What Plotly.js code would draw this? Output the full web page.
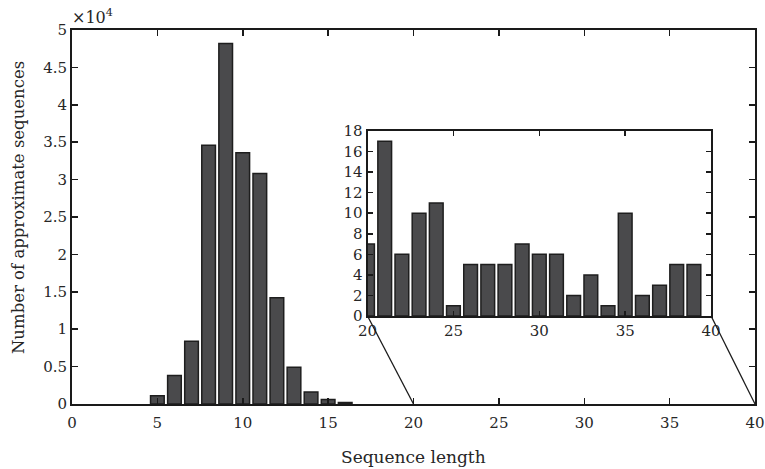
<!DOCTYPE html>
<html>
<head>
<meta charset="utf-8">
<script src="https://cdn.plot.ly/plotly-3.0.1.min.js"></script>
<style>html,body{margin:0;padding:0;background:#fff;}</style>
</head>
<body>
<div id="chart" style="width:765px;height:469px;"></div>
<script>
// Main histogram (counts in units of 10^4)
const mainLengths = [5, 6, 7, 8, 9, 10, 11, 12, 13, 14, 15, 16];
const mainCounts = [0.11, 0.38, 0.84, 3.46, 4.82, 3.36, 3.08, 1.42, 0.49, 0.16, 0.06, 0.02];
// Inset: lengths 20-39
const insetLengths = [20, 21, 22, 23, 24, 25, 26, 27, 28, 29, 30, 31, 32, 33, 34, 35, 36, 37, 38, 39];
const insetCounts = [7, 17, 6, 10, 11, 1, 5, 5, 5, 7, 6, 6, 2, 4, 1, 10, 2, 3, 5, 5];
const mainXTicks = [0, 5, 10, 15, 20, 25, 30, 35, 40];
const mainYTicks = [0, 0.5, 1, 1.5, 2, 2.5, 3, 3.5, 4, 4.5, 5];
const insetXTicks = [20, 25, 30, 35, 40];
const insetYTicks = [0, 2, 4, 6, 8, 10, 12, 14, 16, 18];

const FONT = 'DejaVu Serif, Liberation Serif, serif';
const barFill = '#4a4a4c';
const barLine = '#1e1e1e';
const axisColor = '#1a1a1a';
const textColor = '#262626';

const inset = {x0: 0.4327, x1: 0.9357, y0: 0.2353, y1: 0.730};

const traces = [
  {type: 'bar', x: mainLengths, y: mainCounts, width: 0.8, xaxis: 'x', yaxis: 'y',
   marker: {color: barFill, line: {color: barLine, width: 1.5}}, hoverinfo: 'x+y'},
  {type: 'bar', x: insetLengths, y: insetCounts, width: 0.8, xaxis: 'x2', yaxis: 'y2',
   marker: {color: barFill, line: {color: barLine, width: 1.5}}, hoverinfo: 'x+y'}
];

const axBase = {showgrid: false, zeroline: false, showline: true, mirror: 'ticks',
  linecolor: axisColor, linewidth: 2, ticks: 'inside', ticklen: 6, tickwidth: 1.5,
  tickcolor: axisColor, ticklabeloverflow: 'allow',
  tickfont: {family: FONT, size: 15, color: textColor}};

const layout = {
  width: 765, height: 469,
  margin: {l: 72, r: 10, t: 30, b: 65},
  paper_bgcolor: '#fff', plot_bgcolor: 'rgba(0,0,0,0)',
  showlegend: false, bargap: 0,
  font: {family: FONT, color: textColor},
  xaxis: Object.assign({}, axBase, {range: [0, 40], tickvals: mainXTicks, ticktext: mainXTicks.map(String),
    domain: [0, 1], anchor: 'y', ticklabelstandoff: 4}),
  yaxis: Object.assign({}, axBase, {range: [0, 5], tickvals: mainYTicks, ticktext: mainYTicks.map(String),
    domain: [0, 1], anchor: 'x'}),
  xaxis2: Object.assign({}, axBase, {range: [20, 40], tickvals: insetXTicks, ticktext: insetXTicks.map(String),
    domain: [inset.x0, inset.x1], anchor: 'y2', ticklen: 5}),
  yaxis2: Object.assign({}, axBase, {range: [0, 18], tickvals: insetYTicks, ticktext: insetYTicks.map(String),
    domain: [inset.y0, inset.y1], anchor: 'x2', ticklen: 5}),
  shapes: [
    {type: 'rect', xref: 'paper', yref: 'paper', x0: inset.x0, x1: inset.x1, y0: inset.y0, y1: inset.y1,
     fillcolor: '#fff', line: {width: 0}, layer: 'below'},
    {type: 'line', xref: 'paper', yref: 'paper', x0: inset.x0, y0: inset.y0, x1: 0.5, y1: 0,
     line: {color: axisColor, width: 1.3}},
    {type: 'line', xref: 'paper', yref: 'paper', x0: inset.x1, y0: inset.y0, x1: 1, y1: 0,
     line: {color: axisColor, width: 1.3}}
  ],
  annotations: [
    {xref: 'paper', yref: 'paper', x: 0, y: 1, xanchor: 'left', yanchor: 'bottom', yshift: 1, xshift: -2,
     text: '×10<sup>4</sup>', showarrow: false, font: {family: FONT, size: 16, color: textColor}},
    {xref: 'paper', yref: 'paper', x: 0.5007, y: -0.1417, xanchor: 'center', yanchor: 'middle',
     text: 'Sequence length', showarrow: false, font: {family: FONT, size: 17, color: textColor}},
    {xref: 'paper', yref: 'paper', x: -0.0790, y: 0.524, xanchor: 'center', yanchor: 'middle', textangle: -90,
     text: 'Number of approximate sequences', showarrow: false, font: {family: FONT, size: 16.5, color: textColor}}
  ]
};

Plotly.newPlot('chart', traces, layout, {displayModeBar: false, staticPlot: true});
</script>
</body>
</html>
